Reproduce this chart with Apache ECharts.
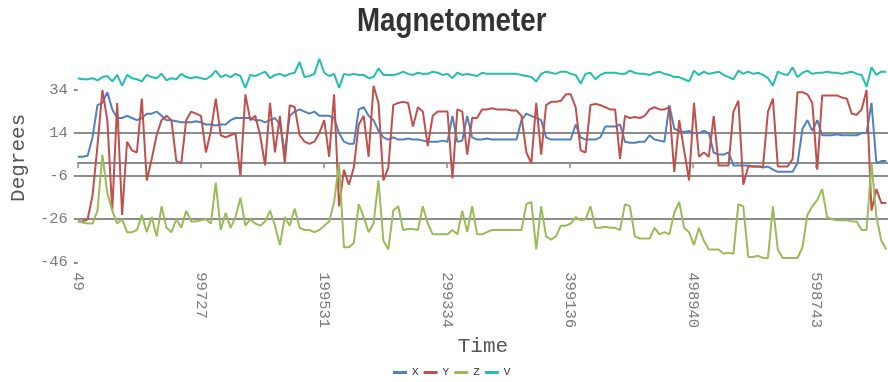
<!DOCTYPE html>
<html><head><meta charset="utf-8">
<script src="https://cdn.jsdelivr.net/npm/echarts@6/dist/echarts.min.js"></script>
<style>html,body{margin:0;padding:0;background:#fff}#c{width:888px;height:382px}</style>
</head><body><div id="c"></div>
<script>
const titleText = "Magnetometer";
const seriesNames = ["X", "Y", "Z", "V"];
const xTickLabels = ["49", "99727", "199531", "299334", "399136", "498940", "598743"];
const yTickValues = [-46, -26, -6, 14, 34];

const times = [49,4000,8000,12000,16000,20000,24000,28000,32000,36000,
40000,44000,48000,52000,56000,60000,64000,68000,72000,76000,
80000,84000,88000,92000,96000,100000,104000,108000,112000,116000,
120000,124000,128000,132000,136000,140000,144000,148000,152000,156000,
160000,164000,168000,172000,176000,180000,184000,188000,192000,196000,
200000,204000,208000,212000,216000,220000,224000,228000,232000,236000,
240000,244000,248000,252000,256000,260000,264000,268000,272000,276000,
280000,284000,288000,292000,296000,300000,304000,308000,312000,316000,
320000,324000,328000,332000,336000,340000,344000,348000,352000,356000,
360000,364000,368000,372000,376000,380000,384000,388000,392000,396000,
400000,404000,408000,412000,416000,420000,424000,428000,432000,436000,
440000,444000,448000,452000,456000,460000,464000,468000,472000,476000,
480000,484000,488000,492000,496000,500000,504000,508000,512000,516000,
520000,524000,528000,532000,536000,540000,544000,548000,552000,556000,
560000,564000,568000,572000,576000,580000,584000,588000,592000,596000,
600000,604000,608000,612000,616000,620000,624000,628000,632000,636000,
640000,644000,648000,652000,656000];

const xValues = [3,3,3.5,12,27,28,33,25,21,21,
22,21,20,21,23,23,24,22,20,20,
19.5,19,19,19,19.5,19,18,18,17.5,18,
18,20,21,21,21,21,20,20,19,20,
21,18,5,22,24,25,24,23,24,22,
22,22,21,14,10,9,9,25,26,22,
20,15,12,11,12,11,11,11.5,11,11,
10.5,10,10,10,10.5,10,22,10,10.5,22,
12,11,11,11.5,11,11,11,11,11,11,
20,23,22,21,20,12,11,11,11,11,
11,18,12,11,11,11,12,17,17,17,
18,10,9.5,9.5,10,10,13,11,10.5,10,
27,16,15,14.5,15,14,14,15,14,5,
4,4,5,-1,-1,-1,-1,-1.5,-1.5,-2,
-1.5,-3,-4,-4,-4,-4,0,16,20,15,
20,13,13,13,13.5,13,13,13,13,14,
14,28,0,1,1];

const yValues = [-27,-27,-26,-15,8,34,20,-22,28,-24,
10,6,5,30,-8,2,13,20,22,20,
1,0,20,24,23,22,5,15,30,13,
12,13,14,-6,32,20,22,13,-1,28,
5,22,0,27,26,13,10,9,10,14,
20,3,32,-20,-3,-10,-2,18,22,3,
36,28,-8,-2,27,28,28.5,28,17,26,
24,8,22,24,24,24,-7,25,24,4,
21,21,25,25,25.5,25,25,25,24.5,24.5,
22,5,0,28,4,27,28.5,28.5,29,32,
32,26,6,5,27,27.5,27,26,25,25,
2,22,21,21.5,21,22,25,26,25,25,
26,-4,20,6,-8,28,3,5,3,22,
-1,-1,-1,24,29,-10,-1.5,-1.5,-1.5,-1.5,
24,30,-1.5,-1.5,-1.5,2,33,33,32,28,
-3,31.5,31.5,31.5,31.5,30.5,30,23,22.5,25,
34,-22,-12,-18.5,-18.5];

const zValues = [-27,-27.5,-28,-28,-22,4,-14,-22,-28,-26,
-32,-32,-31,-24,-32,-25,-34,-20,-30,-32,
-26,-30,-22,-27,-27,-26.5,-26,-28,-9,-31,
-23,-30,-25,-16,-29,-26,-28,-29,-27,-22,
-29,-38,-25,-29,-21,-30,-31,-31,-32,-31,
-29,-27,-18,0,-39,-39,-37,-19,-25,-32,
-28,-8,-36,-40,-22,-20,-31,-30.5,-30.5,-31,
-20,-28,-33,-33,-33,-33,-31,-33,-22,-32,
-20,-33,-33,-32,-31,-31,-31,-31,-31,-31,
-31,-19,-18,-40,-20,-34,-35.5,-34,-29,-29,
-28,-25,-26.5,-26,-20,-30,-30,-29.5,-30,-30,
-31,-19,-20,-34,-35,-35,-35,-30,-33,-32,
-33,-23,-18,-30,-32,-38,-30,-36,-40,-40,
-40,-42,-41.5,-42,-19,-20,-43.5,-43.5,-43,-44,
-44,-20,-40,-44,-44,-44,-44,-39,-24,-20,
-17,-12,-25,-26,-26.5,-26.5,-26.5,-27,-27,-31,
-31,0,-25,-36,-40];

const vValues = [39.5,39,39,39.5,38.5,40,40.5,38,41,36,
41,39.5,39,38,41,40,39.5,41.5,38.5,39.5,
39,41.5,40,39.5,40,39.5,39,40.5,43,40,
41,40,41.5,40.5,35,41,40.5,41.5,42.5,39.5,
41,41.5,40.5,41.5,42,47,40,40.5,41.5,48.5,
42,40.5,41.5,35,41.5,41,41.5,41,41,39.5,
40,44,41,41,41,41.5,42.5,41.5,41,42,
41.5,41.5,42.5,42,41,41.5,39.5,42,41,41.5,
41,40.5,42,41.5,41.5,41.5,41.5,41.5,41.5,41.5,
41,40.5,40,38,41.5,42.5,42,41.5,42.5,42.5,
41.5,41,37,41.5,42,39,41,42,42,42,
41.5,41.5,43,42,41.5,41.5,41,42,42.5,41.5,
41,40,40,39,38,43,41,42.5,41.5,42,
42.5,41,40,39,43,41.5,42.5,41.5,42,41,
39.5,36,42.5,41.5,41,44.5,40,42,43,41.5,
42,42,42.5,42,42,41.5,42,42.5,41.5,41,
35.5,44.5,41,42.5,42.5];

const colors = ["#4F81BC", "#C0504E", "#9BBB58", "#23BFAA"];
const MONO = "'Liberation Mono','Courier New',monospace";
const GRID = "#8c8c8c";
const X_MIN = 49, X_INT = 99782;

const pairs = vals => times.map((t, i) => [t, vals[i]]);
const allVals = [xValues, yValues, zValues, vValues];

const chart = echarts.init(document.getElementById('c'), null, {renderer: 'canvas'});
chart.setOption({
  animation: false,
  color: colors,
  graphic: [{
    type: 'text', x: 357, y: 22, scaleX: 0.84, scaleY: 1,
    style: {text: titleText, font: "bold 33px 'Liberation Sans',Arial,sans-serif",
            fill: '#333', align: 'left', verticalAlign: 'middle'}
  }],
  grid: {left: 69.7, right: 0, top: 53.4, bottom: 119.7},
  legend: {
    data: seriesNames, left: 388, top: 362, icon: 'rect', itemWidth: 14, itemHeight: 3, itemGap: 5,
    textStyle: {fontFamily: MONO, fontSize: 11, color: '#333'}
  },
  xAxis: {
    type: 'value', min: X_MIN, max: 657400, interval: X_INT,
    name: 'Time', nameLocation: 'middle', nameGap: 59,
    nameTextStyle: {fontFamily: MONO, fontSize: 21, color: '#555'},
    axisLine: {show: true, lineStyle: {color: GRID, width: 2}},
    axisTick: {show: true, length: 5, lineStyle: {color: GRID, width: 1.5}},
    axisLabel: {rotate: -90, margin: 10, fontFamily: MONO, fontSize: 15.5, color: '#7b7b7b', showMaxLabel: false,
      formatter: v => { const i = Math.round((v - X_MIN) / X_INT); return xTickLabels[i] !== undefined ? xTickLabels[i] : ''; }},
    splitLine: {show: false}
  },
  yAxis: {
    type: 'value', min: -46, max: 51, interval: 20,
    name: 'Degrees', nameLocation: 'middle', nameGap: 44, nameRotate: 90,
    nameTextStyle: {fontFamily: MONO, fontSize: 21, color: '#555'},
    axisLine: {show: false},
    axisTick: {show: true, length: 4, customValues: yTickValues, lineStyle: {color: GRID, width: 2}},
    axisLabel: {margin: 10, fontFamily: MONO, fontSize: 15.5, color: '#7b7b7b', showMaxLabel: false},
    splitLine: {show: true, showMaxLine: false, showMinLine: false, lineStyle: {color: GRID, width: 2}}
  },
  series: seriesNames.map((n, i) => ({
    name: n, type: 'line', data: pairs(allVals[i]), showSymbol: false, symbol: 'none',
    lineStyle: {width: 2, color: colors[i]}, itemStyle: {color: colors[i]}
  }))
});
</script>
</body></html>
